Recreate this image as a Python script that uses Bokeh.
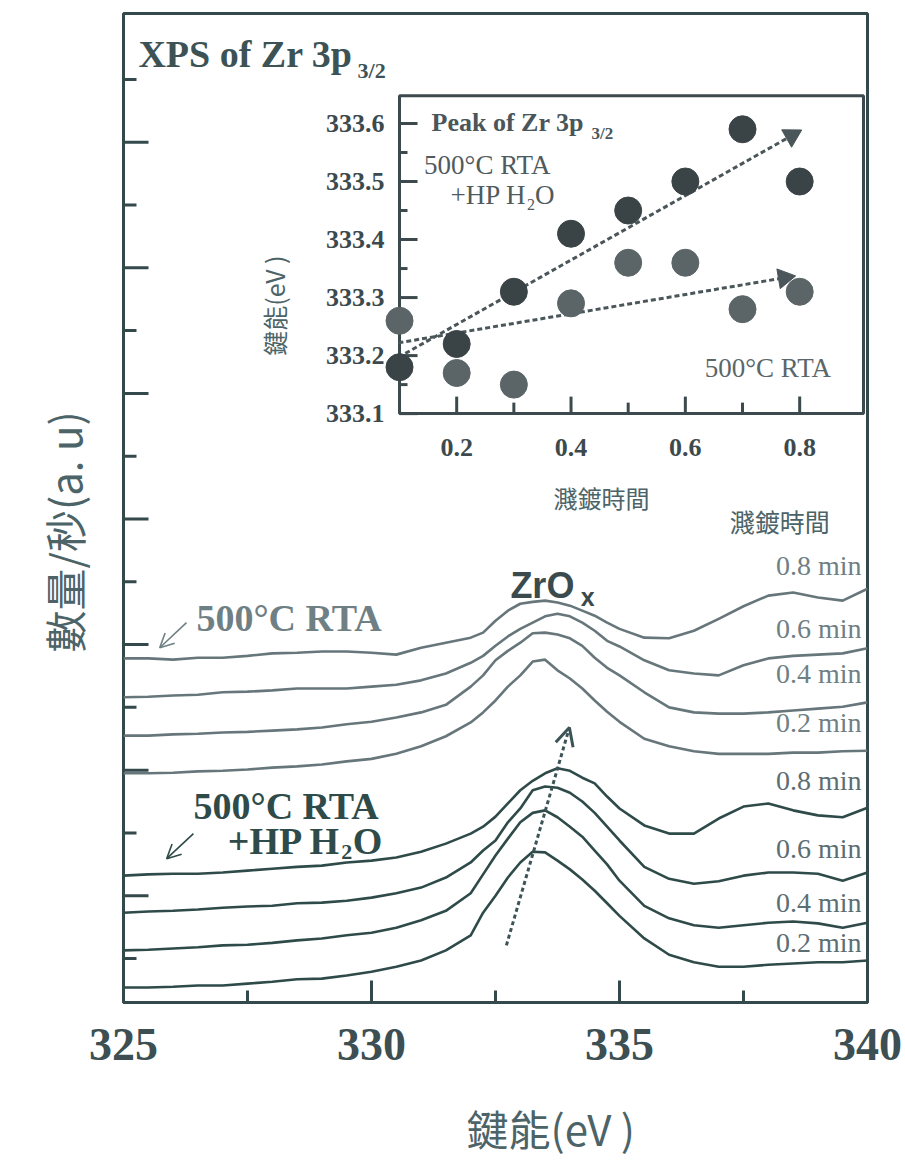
import math
from bokeh.plotting import figure
from bokeh.models import Range1d, FixedTicker, Arrow, OpenHead, Title
from bokeh.core.properties import value
from bokeh.embed import file_html
from bokeh.resources import INLINE

# ---------------- data ----------------
energy = [325.0, 325.5, 326.0, 326.5, 327.0, 327.5, 328.0, 328.5, 329.0, 329.5,
          330.0, 330.5, 331.0, 331.5, 332.0, 332.25, 332.5, 332.75, 333.0, 333.25,
          333.5, 333.75, 334.0, 334.25, 334.5, 334.75, 335.0, 335.5, 336.0, 336.5,
          337.0, 337.5, 338.0, 338.5, 339.0, 339.5, 340.0]

# 500 C RTA (upper group), counts/s in arbitrary units
rta_08 = [4.78, 4.78, 4.76, 4.79, 4.79, 4.82, 4.86, 4.87, 4.89, 4.89, 4.87, 4.84, 4.95, 5.03, 5.11,
          5.19, 5.38, 5.54, 5.65, 5.68, 5.70, 5.67, 5.62, 5.54, 5.46, 5.35,
          5.25, 5.11, 5.10, 5.22, 5.41, 5.61, 5.78, 5.83, 5.75, 5.70, 5.89]
rta_06 = [4.16, 4.17, 4.19, 4.20, 4.24, 4.25, 4.27, 4.30, 4.30, 4.30, 4.33, 4.36, 4.43, 4.54, 4.71,
          4.82, 4.98, 5.13, 5.25, 5.35, 5.45, 5.49, 5.45, 5.35, 5.22, 5.06,
          4.97, 4.75, 4.59, 4.54, 4.51, 4.67, 4.78, 4.82, 4.84, 4.86, 4.94]
rta_04 = [3.55, 3.55, 3.57, 3.58, 3.60, 3.61, 3.63, 3.65, 3.68, 3.73, 3.77, 3.84, 3.92, 4.04, 4.33,
          4.51, 4.75, 4.90, 5.03, 5.18, 5.19, 5.16, 5.10, 4.98, 4.79, 4.63,
          4.51, 4.24, 4.00, 3.92, 3.90, 3.90, 3.92, 3.95, 3.98, 4.01, 4.08]
rta_02 = [2.95, 2.95, 2.96, 2.98, 2.99, 3.01, 3.04, 3.06, 3.09, 3.14, 3.18, 3.26, 3.38, 3.54, 3.76,
          3.92, 4.11, 4.33, 4.51, 4.73, 4.76, 4.59, 4.46, 4.30, 4.11, 3.93,
          3.77, 3.50, 3.38, 3.30, 3.26, 3.26, 3.26, 3.28, 3.28, 3.30, 3.31]
# 500 C RTA + HP H2O (lower group)
hp_08 = [1.32, 1.34, 1.35, 1.35, 1.37, 1.40, 1.43, 1.46, 1.48, 1.53, 1.56, 1.61, 1.70, 1.83, 1.99,
         2.10, 2.26, 2.47, 2.68, 2.83, 2.95, 3.03, 2.99, 2.88, 2.79, 2.58,
         2.39, 2.12, 1.99, 1.99, 2.23, 2.42, 2.47, 2.36, 2.28, 2.25, 2.40]
hp_06 = [0.73, 0.75, 0.76, 0.78, 0.81, 0.83, 0.84, 0.88, 0.89, 0.92, 0.97, 1.04, 1.13, 1.29, 1.53,
         1.72, 1.88, 2.17, 2.39, 2.68, 2.74, 2.72, 2.64, 2.50, 2.32, 2.10,
         1.88, 1.46, 1.27, 1.19, 1.23, 1.32, 1.37, 1.37, 1.35, 1.24, 1.37]
hp_04 = [0.13, 0.14, 0.16, 0.18, 0.21, 0.22, 0.25, 0.29, 0.32, 0.37, 0.41, 0.49, 0.61, 0.76, 1.04,
         1.34, 1.64, 1.91, 2.17, 2.32, 2.36, 2.25, 2.10, 1.94, 1.72, 1.50,
         1.24, 0.84, 0.64, 0.53, 0.49, 0.53, 0.57, 0.59, 0.56, 0.49, 0.57]
hp_02 = [-0.46, -0.46, -0.45, -0.43, -0.43, -0.40, -0.37, -0.33, -0.32, -0.27, -0.21, -0.13, -0.03, 0.13, 0.37,
         0.73, 1.00, 1.29, 1.53, 1.70, 1.69, 1.56, 1.42, 1.26, 1.08, 0.88,
         0.68, 0.32, 0.06, -0.06, -0.13, -0.13, -0.10, -0.08, -0.06, -0.06, -0.03]

time_labels = ["0.8 min", "0.6 min", "0.4 min", "0.2 min", "0.8 min", "0.6 min", "0.4 min", "0.2 min"]
x_ticks = [325, 330, 335, 340]
x_minor = [327.5, 332.5, 337.5]
y_major_ticks = [1, 3, 5, 7, 9, 11, 13]
y_minor_ticks = [0, 2, 4, 6, 8, 10, 12, 14]

# inset: peak position vs sputter time
sputter_time = [0.1, 0.2, 0.3, 0.4, 0.5, 0.6, 0.7, 0.8]
peak_rta = [333.26, 333.17, 333.15, 333.29, 333.36, 333.36, 333.28, 333.31]
peak_hp = [333.18, 333.22, 333.31, 333.41, 333.45, 333.50, 333.59, 333.50]
trend_hp = ([0.098, 0.786], [333.197, 333.579])
trend_rta = ([0.098, 0.773], [333.222, 333.334])
inset_x_major = [0.2, 0.4, 0.6, 0.8]
inset_x_minor = [0.3, 0.5, 0.7]
inset_y_major = [333.1, 333.2, 333.3, 333.4, 333.5, 333.6]
inset_y_minor = [333.15, 333.25, 333.35, 333.45, 333.55]

# ---------------- styles ----------------
SERIF = value("Liberation Serif")
SANS = value("Liberation Sans")
CJK = value("Noto Sans CJK TC")
AX = "#34494b"
UP = "#66767a"
LO = "#2e4b49"
UP_TXT = "#6f8085"
LO_TXT = "#5b6e72"
CJK_C = "#4c6468"
PX_PER_EV = 49.6     # main frame pixels per eV
PX_PER_Y = 62.8      # main frame pixels per y unit

p = figure(frame_width=744, frame_height=989,
           x_range=Range1d(325, 340), y_range=Range1d(-0.70, 15.05),
           output_backend="svg", toolbar_location=None,
           min_border_left=122, min_border_top=13, min_border_right=35, min_border_bottom=0)
p.grid.visible = False
p.outline_line_color = AX
p.outline_line_width = 3
p.outline_line_alpha = 1

xa = p.xaxis[0]
xa.ticker = FixedTicker(ticks=x_ticks, minor_ticks=x_minor)
xa.major_tick_in = 22
xa.major_tick_out = 0
xa.minor_tick_in = 12
xa.minor_tick_out = 0
xa.major_tick_line_width = 3
xa.minor_tick_line_width = 3
xa.major_tick_line_color = AX
xa.minor_tick_line_color = AX
xa.axis_line_width = 3
xa.axis_line_color = AX
xa.major_label_text_font = "Liberation Serif"
xa.major_label_text_font_style = "bold"
xa.major_label_text_font_size = "46px"
xa.major_label_text_color = "#3d4f52"
xa.major_label_standoff = 26

p.yaxis.visible = False
# inward y ticks (no tick labels in the original)
p.segment(x0=[325] * len(y_major_ticks), y0=y_major_ticks,
          x1=[325 + 25 / PX_PER_EV] * len(y_major_ticks), y1=y_major_ticks,
          line_color=AX, line_width=3)
p.segment(x0=[325] * len(y_minor_ticks), y0=y_minor_ticks,
          x1=[325 + 13 / PX_PER_EV] * len(y_minor_ticks), y1=y_minor_ticks,
          line_color=AX, line_width=3)

p.add_layout(Title(text="鍵能(eV )", align="left", offset=343, text_font="Noto Sans CJK TC",
                   text_font_size="42px", text_font_style="normal", text_color=CJK_C, standoff=65), "below")
p.add_layout(Title(text="數量/秒(a. u)", align="left", offset=350, text_font="Noto Sans CJK TC",
                   text_font_size="42px", text_font_style="normal", text_color=CJK_C, standoff=60), "left")

# ---------------- spectra ----------------
for ys in [rta_08, rta_06, rta_04, rta_02]:
    p.line(energy, ys, line_color=UP, line_width=2.6, line_join="round")
for ys in [hp_08, hp_06, hp_04, hp_02]:
    p.line(energy, ys, line_color=LO, line_width=2.6, line_join="round")

label_y = [6.26, 5.25, 4.54, 3.76, 2.83, 1.75, 0.89, 0.25]
p.text(x=[339.88] * 8, y=label_y, text=time_labels, text_font=SERIF, text_font_size=value("28px"),
       text_align="right", text_baseline="middle",
       text_color=[UP_TXT] * 4 + [LO_TXT] * 4)

p.text(x=[338.23], y=[6.975], text=["濺鍍時間"], text_font=CJK, text_font_size=value("25px"),
       text_align="center", text_baseline="middle", text_color=CJK_C)

# title
p.text(x=[325.30], y=[14.41], text=["XPS of Zr 3p"], text_font=SERIF, text_font_style="bold",
       text_font_size=value("38px"), text_align="left", text_baseline="alphabetic", text_color="#3d5255")
p.text(x=[329.72], y=[14.15], text=["3/2"], text_font=SERIF, text_font_style="bold",
       text_font_size=value("22px"), text_align="left", text_baseline="alphabetic", text_color="#3d5255")

# ZrOx
p.text(x=[332.80], y=[5.94], text=["ZrO"], text_font=SANS, text_font_style="bold",
       text_font_size=value("36px"), text_align="left", text_baseline="alphabetic", text_color="#3b4a4d")
p.text(x=[334.22], y=[5.76], text=["x"], text_font=SANS, text_font_style="bold",
       text_font_size=value("25px"), text_align="left", text_baseline="alphabetic", text_color="#3b4a4d")

# group labels
p.text(x=[326.47], y=[5.43], text=["500°C RTA"], text_font=SERIF, text_font_style="bold",
       text_font_size=value("38px"), text_align="left", text_baseline="alphabetic", text_color=UP_TXT)
p.text(x=[326.41], y=[2.436], text=["500°C RTA"], text_font=SERIF, text_font_style="bold",
       text_font_size=value("38px"), text_align="left", text_baseline="alphabetic", text_color=LO)
p.text(x=[329.39], y=[1.879], text=["+HP H"], text_font=SERIF, text_font_style="bold",
       text_font_size=value("38px"), text_align="right", text_baseline="alphabetic", text_color=LO)
p.text(x=[329.39], y=[1.69], text=["2"], text_font=SERIF, text_font_style="bold",
       text_font_size=value("22px"), text_align="left", text_baseline="alphabetic", text_color=LO)
p.text(x=[329.62], y=[1.879], text=["O"], text_font=SERIF, text_font_style="bold",
       text_font_size=value("38px"), text_align="left", text_baseline="alphabetic", text_color=LO)

# arrows
p.add_layout(Arrow(end=OpenHead(size=14, line_color=UP_TXT, line_width=1.6),
                   x_start=326.27, y_start=5.35, x_end=325.73, y_end=4.95,
                   line_color=UP_TXT, line_width=1.6))
p.add_layout(Arrow(end=OpenHead(size=14, line_color=LO, line_width=1.6),
                   x_start=326.41, y_start=1.99, x_end=325.87, y_end=1.59,
                   line_color=LO, line_width=1.6))
p.add_layout(Arrow(end=OpenHead(size=18, line_color="#3c5456", line_width=3),
                   x_start=332.72, y_start=0.21, x_end=333.99, y_end=3.68,
                   line_color="#3c5456", line_width=3, line_dash="4 3"))

# ---------------- inset ----------------
IX0, IX1 = 0.1, 0.9116
IY0, IY1 = 333.1, 333.648
PXX, PXY = 571.7, 580.0  # inset pixels per unit
inset = p.subplot(x_source=Range1d(IX0, IX1), y_source=Range1d(IY0, IY1),
                  x_target=Range1d(330.565, 339.919), y_target=Range1d(8.678, 13.742))

IN_C = "#3c4a4d"
inset.quad(left=[IX0], right=[IX1], bottom=[IY0], top=[IY1], fill_color="white",
           line_color=IN_C, line_width=3)
inset.segment(x0=inset_x_major, y0=[IY0] * 4, x1=inset_x_major, y1=[IY0 + 17 / PXY] * 4,
              line_color=IN_C, line_width=3)
inset.segment(x0=inset_x_minor, y0=[IY0] * 3, x1=inset_x_minor, y1=[IY0 + 11 / PXY] * 3,
              line_color=IN_C, line_width=3)
inset.segment(x0=[IX0] * 6, y0=inset_y_major, x1=[IX0 + 18 / PXX] * 6, y1=inset_y_major,
              line_color=IN_C, line_width=3)
inset.segment(x0=[IX0] * 5, y0=inset_y_minor, x1=[IX0 + 8 / PXX] * 5, y1=inset_y_minor,
              line_color=IN_C, line_width=3)

inset.text(x=inset_x_major, y=[IY0 - 34 / PXY] * 4, text=["%.1f" % v for v in inset_x_major],
           text_font=SERIF, text_font_style="bold", text_font_size=value("26px"),
           text_align="center", text_baseline="middle", text_color="#3d4a4d")
inset.text(x=[IX0 - 15 / PXX] * 6, y=inset_y_major, text=["%.1f" % v for v in inset_y_major],
           text_font=SERIF, text_font_style="bold", text_font_size=value("26px"),
           text_align="right", text_baseline="middle", text_color="#3d4a4d")
inset.text(x=[IX0 + 202 / PXX], y=[IY0 - 84 / PXY], text=["濺鍍時間"], text_font=CJK,
           text_font_size=value("24px"), text_align="center", text_baseline="middle", text_color=CJK_C)
inset.text(x=[IX0 - 126 / PXX], y=[IY0 + 108 / PXY], text=["鍵能(eV )"], text_font=CJK,
           text_font_size=value("25px"), angle=math.pi / 2,
           text_align="center", text_baseline="middle", text_color=CJK_C)

# trend arrows
inset.line(trend_hp[0], trend_hp[1], line_color="#4a5659", line_width=3, line_dash="5 3")
inset.line(trend_rta[0], trend_rta[1], line_color="#4a5659", line_width=3, line_dash="5 3")
inset.scatter(x=[trend_hp[0][1]], y=[trend_hp[1][1]], marker="triangle", size=20,
              angle=-1.056, fill_color="#4a5659", line_color="#4a5659")
inset.scatter(x=[trend_rta[0][1]], y=[trend_rta[1][1]], marker="triangle", size=20,
              angle=-1.404, fill_color="#4a5659", line_color="#4a5659")

# points
inset.scatter(x=sputter_time, y=peak_rta, size=27, fill_color="#5b6567", line_color="#5b6567")
inset.scatter(x=sputter_time, y=peak_hp, size=27, fill_color="#3a4446", line_color="#3a4446")

# inset texts
inset.text(x=[0.156], y=[333.602], text=["Peak of Zr 3p"], text_font=SERIF, text_font_style="bold",
           text_font_size=value("26px"), text_align="left", text_baseline="alphabetic", text_color="#4a5659")
inset.text(x=[0.436], y=[333.583], text=["3/2"], text_font=SERIF, text_font_style="bold",
           text_font_size=value("17px"), text_align="left", text_baseline="alphabetic", text_color="#4a5659")
inset.text(x=[0.143], y=[333.528], text=["500°C RTA"], text_font=SERIF,
           text_font_size=value("27px"), text_align="left", text_baseline="alphabetic", text_color="#4f5b5e")
inset.text(x=[0.322], y=[333.476], text=["+HP H"], text_font=SERIF,
           text_font_size=value("27px"), text_align="right", text_baseline="alphabetic", text_color="#4f5b5e")
inset.text(x=[0.323], y=[333.460], text=["2"], text_font=SERIF,
           text_font_size=value("16px"), text_align="left", text_baseline="alphabetic", text_color="#4f5b5e")
inset.text(x=[0.337], y=[333.476], text=["O"], text_font=SERIF,
           text_font_size=value("27px"), text_align="left", text_baseline="alphabetic", text_color="#4f5b5e")
inset.text(x=[0.634], y=[333.178], text=["500°C RTA"], text_font=SERIF,
           text_font_size=value("27px"), text_align="left", text_baseline="alphabetic", text_color="#5b6669")

open("out.html", "w").write(file_html(p, INLINE))
